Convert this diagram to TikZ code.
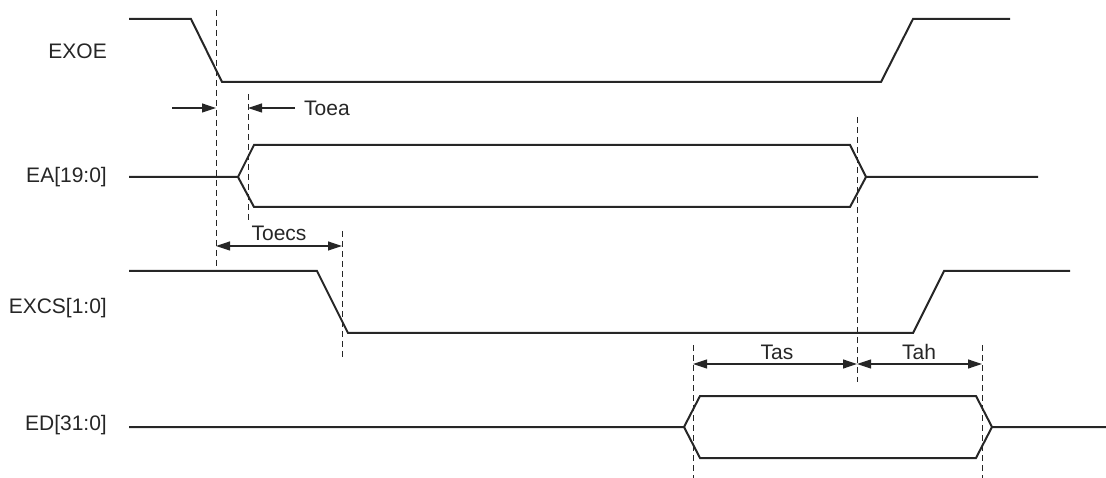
\documentclass[tikz,border=0pt]{standalone}
\usepackage{fontspec}
\setmainfont{Liberation Sans}
\usetikzlibrary{arrows.meta}
\begin{document}
\begin{tikzpicture}[x=1pt,y=-1pt,
  wave/.style={line width=2pt,line join=miter,color=black!85},
  guide/.style={line width=1pt,dash pattern=on 6pt off 4pt,color=black!85},
  dim/.style={line width=1.2pt,color=black!85,arrows={-{Triangle[length=14pt,width=9pt]}}},
  dimboth/.style={line width=1.2pt,color=black!85,arrows={{Triangle[length=14pt,width=9pt]}-{Triangle[length=14pt,width=9pt]}}},
  sig/.style={anchor=east,font=\fontsize{21}{24}\selectfont,text=black!85,inner sep=0pt},
  lbl/.style={font=\fontsize{21}{24}\selectfont,text=black!85,inner sep=0pt}]
\useasboundingbox (0,0) rectangle (1106,478);
% signal names
\node[sig] (nexoe) at (107,51) {EXOE};
\node[sig] (nea) at (107,177) {EA[19:0]};
\node[sig] (nexcs) at (107,308) {EXCS[1:0]};
\node[sig] (ned) at (107,425) {ED[31:0]};
% waveforms
\draw[wave] (129,19) -- (191,19) -- (222,82) -- (881,82) -- (913,19) -- (1010,19);
\draw[wave] (129,177) -- (238,177) -- (254,145) -- (850,145) -- (866,177) -- (1038,177);
\draw[wave] (238,177) -- (254,207) -- (850,207) -- (866,177);
\draw[wave] (129,271) -- (317,271) -- (348,333) -- (913,333) -- (944,271) -- (1070,271);
\draw[wave] (129,427) -- (684,427) -- (700,396) -- (976,396) -- (992,427) -- (1106,427);
\draw[wave] (684,427) -- (700,458) -- (976,458) -- (992,427);
% guide lines
\coordinate (g1t) at (216,10);  \coordinate (g1b) at (216,272);
\coordinate (g2t) at (248,94);  \coordinate (g2b) at (248,220);
\coordinate (g3t) at (342,231); \coordinate (g3b) at (342,358);
\coordinate (g4t) at (857,117); \coordinate (g4b) at (857,382);
\coordinate (g5t) at (693,345); \coordinate (g5b) at (693,478);
\coordinate (g6t) at (982,345); \coordinate (g6b) at (982,478);
\draw[guide] (g1t) -- (g1b);
\draw[guide] (g2t) -- (g2b);
\draw[guide] (g3t) -- (g3b);
\draw[guide] (g4t) -- (g4b);
\draw[guide] (g5t) -- (g5b);
\draw[guide] (g6t) -- (g6b);
% Toea
\coordinate (a1s) at (172,108); \coordinate (a1e) at (216,108);
\coordinate (a2s) at (295,108); \coordinate (a2e) at (248,108);
\draw[dim] (a1s) -- (a1e);
\draw[dim] (a2s) -- (a2e);
\node[lbl,anchor=west] (toea) at (304,108) {Toea};
% Toecs
\coordinate (b1) at (216,246); \coordinate (b2) at (342,246);
\draw[dimboth] (b1) -- (b2);
\node[lbl] (toecs) at (279,233) {Toecs};
% Tas / Tah
\coordinate (c1) at (693,364); \coordinate (c2) at (857,364); \coordinate (c3) at (982,364);
\draw[dimboth] (c1) -- (c2);
\draw[dimboth] (c2) -- (c3);
\node[lbl] (tas) at (777,352) {Tas};
\node[lbl] (tah) at (919,352) {Tah};
\end{tikzpicture}
\end{document}
